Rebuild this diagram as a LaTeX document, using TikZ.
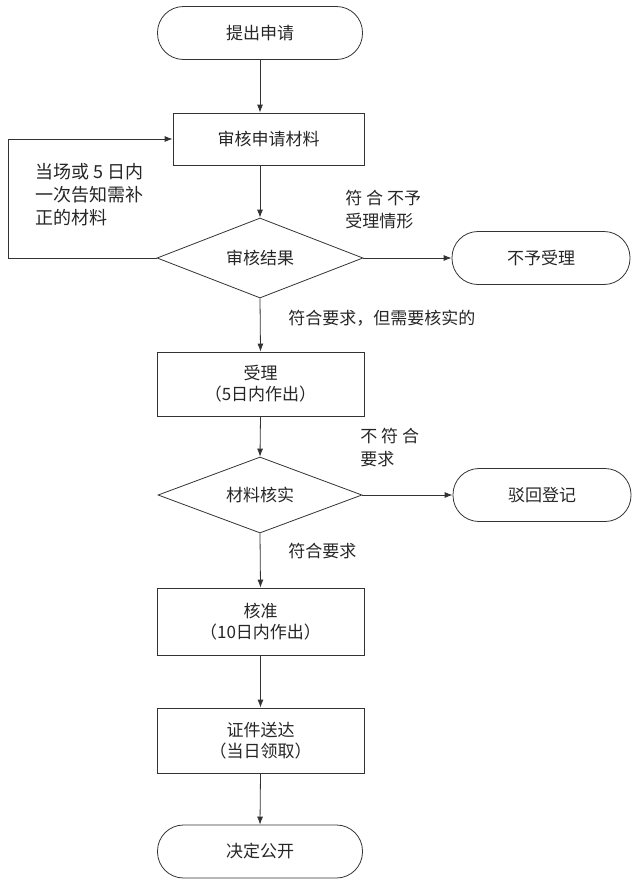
\documentclass[tikz,border=0pt]{standalone}
\usepackage{fontspec}
\setmainfont{Noto Sans CJK SC}
\usetikzlibrary{shapes.geometric, arrows.meta}

\begin{document}
\begin{tikzpicture}[x=1pt, y=-1pt, line width=0.8pt, draw=black!80, text=black!85,
    txt/.style={font=\fontsize{17}{21}\selectfont},
    term/.style={draw, txt, rounded corners=26pt, minimum width=205pt, minimum height=53pt, inner sep=0pt},
    proc/.style={draw, txt, align=center, minimum width=207pt, inner sep=0pt},
    decide/.style={draw, txt, diamond, aspect=2.6, inner sep=0pt},
    note/.style={txt, align=left, anchor=west, inner sep=0pt, font=\fontsize{17}{23}\selectfont},
    arr/.style={-{Latex[length=8pt,width=6pt]}}]
    \useasboundingbox (0,0) rectangle (640,887);
    %%% Main column
    \node[term] (start) at (260,33) {提出申请};
    \node[proc, minimum width=191pt, minimum height=52pt] (check) at (268.5,139) {审核申请材料};
    \node[decide, minimum width=206pt, minimum height=80pt] (result) at (260,258) {审核结果};
    \node[proc, minimum height=64pt] (accept) at (260.5,384) {受理\\（5日内作出）};
    \node[decide, minimum width=204pt, minimum height=76pt] (verify) at (260,495) {材料核实};
    \node[proc, minimum height=67pt] (approve) at (260.5,621.5) {核准\\（10日内作出）};
    \node[proc, minimum height=65pt] (deliver) at (260.5,740.5) {证件送达\\（当日领取）};
    \node[term] (finish) at (260,851.5) {决定公开};
    %
    %%% Side exits
    \node[term, minimum width=178pt] (refuse) at (541,258) {不予受理};
    \node[term, minimum width=178pt] (reject) at (542,495) {驳回登记};
    \coordinate (loop) at (8,258);
    %
    %%% Connectors
    \draw[arr] (start.south) -- (start.south |- check.north);
    \draw[arr] (result.north |- check.south) -- (result.north);
    \draw[arr] (result.west) -- (loop) |- (check.west);
    \draw[arr] (result.east) -- (refuse.west);
    \draw[arr] (result.south) -- (accept.north);
    \draw[arr] (accept.south) -- (verify.north);
    \draw[arr] (verify.east) -- (reject.west);
    \draw[arr] (verify.south) -- (approve.north);
    \draw[arr] (approve.south) -- (deliver.north);
    \draw[arr] (deliver.south) -- (finish.north);
    %
    %%% Labels
    \node[note, font=\fontsize{18}{23}\selectfont] (backnote) at (35,195) {当场或 5 日内\\一次告知需补\\正的材料};
    \node[note] (refusenote) at (345,210) {符 合 不予\\受理情形};
    \node[note] (acceptnote) at (288,318) {符合要求，但需要核实的};
    \node[note] (rejectnote) at (360,448) {不 符 合\\要求};
    \node[note] (approvenote) at (288,551) {符合要求};
\end{tikzpicture}
\end{document}
